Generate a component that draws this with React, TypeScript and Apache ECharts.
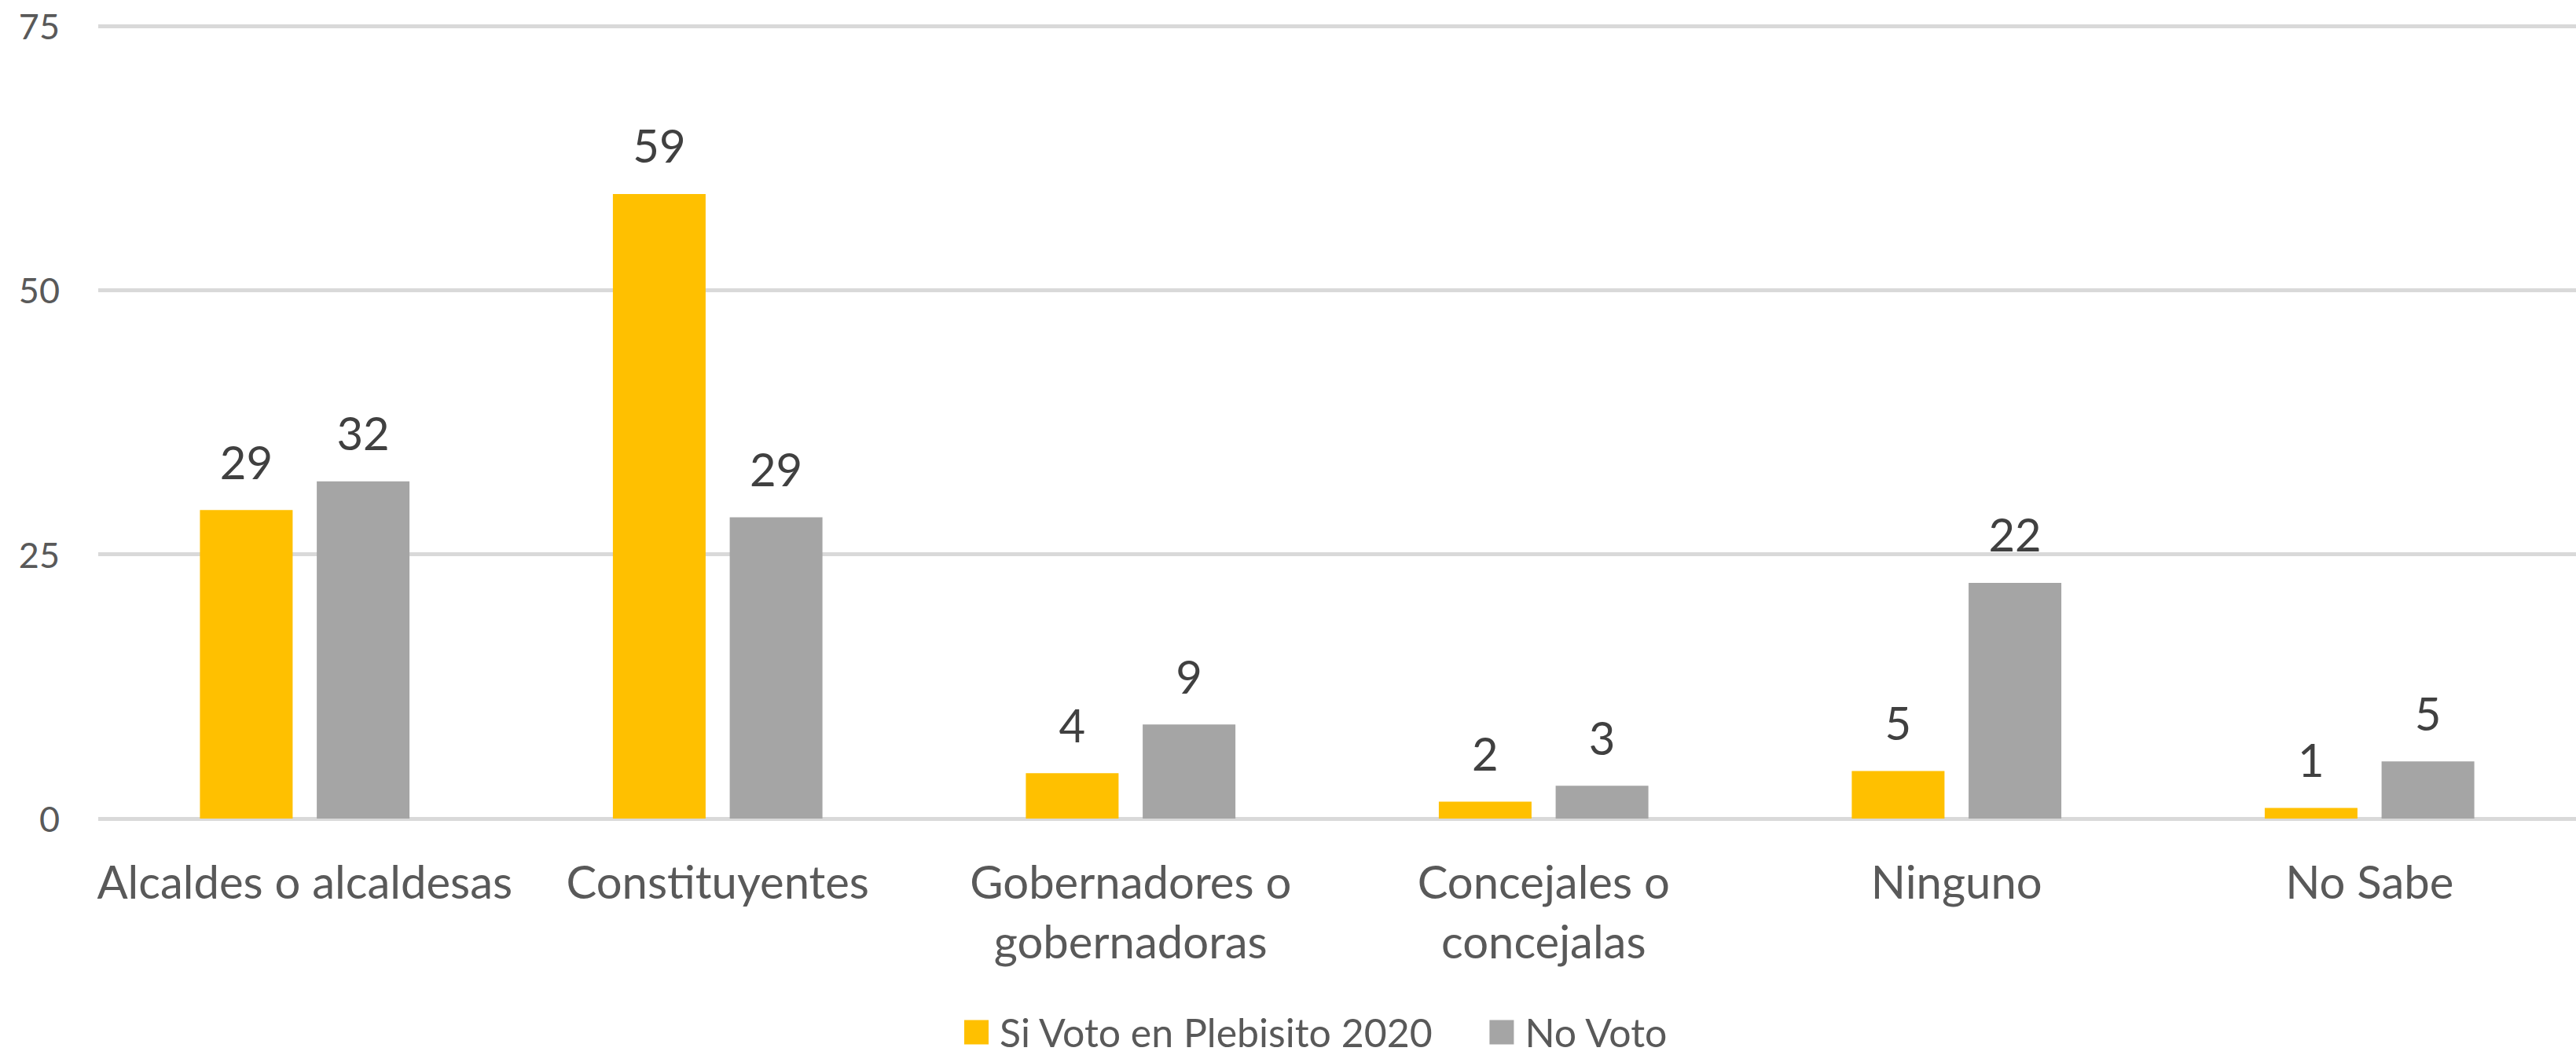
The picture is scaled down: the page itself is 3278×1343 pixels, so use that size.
import React, { useEffect, useRef } from "react";
import * as echarts from "echarts";

const categories = [
  "Alcaldes o alcaldesas",
  "Constituyentes",
  "Gobernadores o gobernadoras",
  "Concejales o concejalas",
  "Ninguno",
  "No Sabe",
];
const seriesNames = ["Si Voto en Plebisito 2020", "No Voto"];
const siVoto = [29.2, 59.1, 4.3, 1.6, 4.5, 1.0];
const noVoto = [31.9, 28.5, 8.9, 3.1, 22.3, 5.4];
const yMin = 0;
const yMax = 75;
const yInterval = 25;

const FONT = "Lato";

export default function App() {
  const ref = useRef<HTMLDivElement>(null);

  useEffect(() => {
    if (!ref.current) return;
    const chart = echarts.init(ref.current, undefined, { renderer: "svg" });
    const labelCfg = {
      show: true,
      position: "top",
      distance: 32,
      color: "#404040",
      fontFamily: FONT,
      fontSize: 58,
      lineHeight: 60,
      formatter: (p: any) => String(Math.round(p.value)),
    };
    chart.setOption({
      animation: false,
      backgroundColor: "#ffffff",
      textStyle: { fontFamily: FONT },
      grid: { left: 125, top: 33, width: 3157, height: 1009, containLabel: false },
      legend: {
        left: 1222,
        top: 1284,
        itemWidth: 31,
        itemHeight: 31,
        itemGap: 71,
        icon: "rect",
        data: seriesNames,
        textStyle: {
          fontFamily: FONT,
          fontSize: 50,
          lineHeight: 50,
          color: "#595959",
          padding: [0, 0, 0, 9],
        },
      },
      xAxis: {
        type: "category",
        data: categories,
        axisLine: { show: false },
        axisTick: { show: false },
        splitLine: { show: false },
        axisLabel: {
          interval: 0,
          margin: 41,
          color: "#595959",
          fontFamily: FONT,
          fontSize: 58,
          lineHeight: 76,
          formatter: (v: string) => (v.length > 22 ? v.replace(" o ", " o\n") : v),
        },
      },
      yAxis: {
        type: "value",
        min: yMin,
        max: yMax,
        interval: yInterval,
        axisLine: { show: false },
        axisTick: { show: false },
        axisLabel: {
          margin: 49,
          color: "#595959",
          fontFamily: FONT,
          fontSize: 45,
        },
        splitLine: { show: true, lineStyle: { color: "#d9d9d9", width: 5 } },
      },
      series: [
        {
          name: seriesNames[0],
          type: "bar",
          data: siVoto,
          barWidth: 118,
          barGap: "26%",
          itemStyle: { color: "#FFC000" },
          label: labelCfg,
        },
        {
          name: seriesNames[1],
          type: "bar",
          data: noVoto,
          barWidth: 118,
          barGap: "26%",
          itemStyle: { color: "#A5A5A5" },
          label: labelCfg,
        },
      ],
    });
    return () => chart.dispose();
  }, []);

  return (
    <div
      ref={ref}
      style={{ position: "absolute", left: 0, top: 0, width: 3278, height: 1343, background: "#fff" }}
    />
  );
}
